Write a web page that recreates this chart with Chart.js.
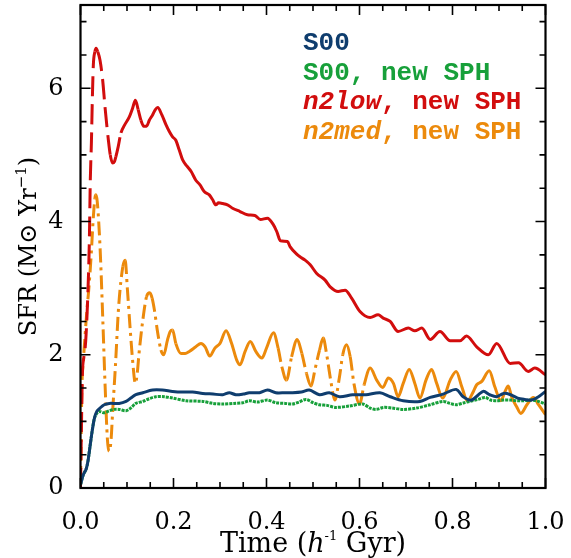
<!DOCTYPE html>
<html><head><meta charset="utf-8">
<script src="https://cdn.jsdelivr.net/npm/chart.js@4/dist/chart.umd.min.js"></script>
<style>html,body{margin:0;padding:0;background:#fff}</style>
</head><body>
<canvas id="c" width="571" height="558"></canvas>
<script>
// ---------------- data ----------------
const xTickValues = [0, 0.2, 0.4, 0.6, 0.8, 1.0];
const yTickValues = [0, 2, 4, 6];
const xMinorStep = 0.05;
const yMinorStep = 0.5;

const s00T = [0, 0.006, 0.012, 0.016, 0.02, 0.025, 0.03, 0.035, 0.042, 0.051, 0.062, 0.083, 0.098, 0.11, 0.119, 0.134, 0.155, 0.176, 0.198, 0.22, 0.241, 0.263, 0.285, 0.306, 0.32, 0.334, 0.35, 0.363, 0.385, 0.402, 0.42, 0.44, 0.456, 0.475, 0.492, 0.514, 0.535, 0.557, 0.585, 0.614, 0.644, 0.666, 0.694, 0.73, 0.752, 0.78, 0.808, 0.823, 0.841, 0.866, 0.88, 0.895, 0.91, 0.925, 0.94, 0.955, 0.97, 0.985, 1.0];
const s00V = [0.05, 0.2, 0.28, 0.4, 0.6, 0.85, 1.05, 1.15, 1.2, 1.25, 1.27, 1.27, 1.3, 1.36, 1.4, 1.43, 1.47, 1.47, 1.45, 1.44, 1.44, 1.42, 1.41, 1.4, 1.43, 1.4, 1.41, 1.43, 1.43, 1.47, 1.43, 1.43, 1.43, 1.44, 1.47, 1.4, 1.43, 1.37, 1.4, 1.4, 1.43, 1.37, 1.31, 1.3, 1.36, 1.41, 1.48, 1.37, 1.32, 1.45, 1.4, 1.37, 1.42, 1.4, 1.35, 1.33, 1.32, 1.37, 1.45];

const s00NewT = [0, 0.006, 0.012, 0.016, 0.02, 0.025, 0.03, 0.035, 0.04, 0.051, 0.062, 0.072, 0.083, 0.098, 0.108, 0.119, 0.134, 0.148, 0.162, 0.18, 0.198, 0.227, 0.263, 0.285, 0.306, 0.33, 0.349, 0.363, 0.38, 0.402, 0.42, 0.44, 0.456, 0.47, 0.485, 0.5, 0.514, 0.53, 0.549, 0.578, 0.607, 0.623, 0.636, 0.652, 0.67, 0.694, 0.723, 0.752, 0.78, 0.795, 0.808, 0.825, 0.837, 0.855, 0.87, 0.882, 0.895, 0.91, 0.924, 0.94, 0.952, 0.968, 0.981, 1.0];
const s00NewV = [0.05, 0.2, 0.28, 0.4, 0.6, 0.85, 1.05, 1.12, 1.15, 1.13, 1.16, 1.18, 1.18, 1.16, 1.2, 1.27, 1.3, 1.34, 1.37, 1.37, 1.35, 1.31, 1.3, 1.27, 1.26, 1.27, 1.28, 1.31, 1.29, 1.32, 1.28, 1.27, 1.26, 1.29, 1.33, 1.28, 1.25, 1.24, 1.21, 1.23, 1.26, 1.2, 1.18, 1.21, 1.2, 1.18, 1.2, 1.25, 1.3, 1.27, 1.25, 1.28, 1.3, 1.33, 1.36, 1.32, 1.31, 1.32, 1.32, 1.31, 1.31, 1.32, 1.31, 1.26];

const n2lowT = [0, 0.002, 0.004, 0.007, 0.010, 0.012, 0.0155, 0.019, 0.021, 0.0235, 0.0255, 0.0276, 0.031, 0.0335, 0.037, 0.042, 0.0477, 0.0527, 0.06, 0.064, 0.069, 0.073, 0.076, 0.081, 0.087, 0.095, 0.105, 0.112, 0.118, 0.124, 0.130, 0.136, 0.142, 0.148, 0.155, 0.161, 0.166, 0.175, 0.184, 0.191, 0.198, 0.205, 0.212, 0.22, 0.229, 0.238, 0.248, 0.257, 0.266, 0.277, 0.284, 0.291, 0.297, 0.306, 0.316, 0.327, 0.343, 0.359, 0.375, 0.387, 0.402, 0.414, 0.422, 0.43, 0.445, 0.451, 0.465, 0.472, 0.483, 0.494, 0.508, 0.526, 0.537, 0.554, 0.569, 0.583, 0.601, 0.623, 0.64, 0.651, 0.666, 0.683, 0.705, 0.719, 0.734, 0.752, 0.773, 0.795, 0.816, 0.83, 0.852, 0.877, 0.895, 0.924, 0.942, 0.963, 0.977, 1.0];
const n2lowV = [0, 0.9, 1.7, 1.95, 2.1, 2.3, 2.85, 3.7, 4.6, 5.2, 5.85, 6.35, 6.55, 6.6, 6.55, 6.42, 6.12, 5.72, 5.22, 5.0, 4.88, 4.9, 4.97, 5.12, 5.33, 5.45, 5.57, 5.7, 5.82, 5.68, 5.52, 5.43, 5.43, 5.52, 5.6, 5.68, 5.71, 5.6, 5.45, 5.35, 5.27, 5.22, 5.08, 4.92, 4.83, 4.75, 4.62, 4.55, 4.45, 4.4, 4.33, 4.25, 4.28, 4.27, 4.25, 4.2, 4.15, 4.1, 4.09, 4.03, 4.05, 3.96, 3.85, 3.71, 3.7, 3.62, 3.51, 3.47, 3.42, 3.35, 3.22, 3.12, 3.02, 2.95, 2.97, 2.85, 2.65, 2.56, 2.6, 2.55, 2.5, 2.35, 2.4, 2.36, 2.4, 2.23, 2.35, 2.21, 2.21, 2.28, 2.12, 2.0, 2.17, 1.87, 1.88, 1.75, 1.8, 1.7];

const n2medT = [0, 0.003, 0.006, 0.009, 0.013, 0.018, 0.023, 0.027, 0.031, 0.033, 0.036, 0.042, 0.048, 0.053, 0.058, 0.062, 0.066, 0.069, 0.075, 0.082, 0.091, 0.096, 0.101, 0.107, 0.112, 0.118, 0.122, 0.126, 0.134, 0.142, 0.149, 0.154, 0.159, 0.166, 0.173, 0.179, 0.187, 0.193, 0.198, 0.205, 0.216, 0.225, 0.234, 0.248, 0.259, 0.268, 0.278, 0.289, 0.3, 0.313, 0.325, 0.336, 0.343, 0.354, 0.365, 0.377, 0.39, 0.4, 0.415, 0.425, 0.433, 0.443, 0.454, 0.466, 0.476, 0.486, 0.496, 0.504, 0.514, 0.522, 0.529, 0.538, 0.547, 0.557, 0.564, 0.572, 0.58, 0.588, 0.6, 0.61, 0.623, 0.637, 0.65, 0.662, 0.673, 0.683, 0.694, 0.707, 0.719, 0.73, 0.743, 0.755, 0.766, 0.779, 0.795, 0.808, 0.82, 0.832, 0.845, 0.852, 0.863, 0.879, 0.891, 0.904, 0.913, 0.92, 0.927, 0.938, 0.947, 0.96, 0.974, 0.985, 1.0];
const n2medV = [0, 1.5, 1.9, 2.2, 2.6, 3.0, 3.5, 4.0, 4.35, 4.4, 4.3, 3.62, 2.52, 1.52, 0.72, 0.55, 0.75, 1.13, 1.82, 2.72, 3.32, 3.42, 2.97, 2.37, 1.92, 1.57, 1.72, 2.03, 2.52, 2.87, 2.93, 2.85, 2.67, 2.33, 2.07, 2.0, 2.22, 2.35, 2.37, 2.17, 2.02, 2.02, 2.05, 2.12, 2.17, 2.12, 1.98, 2.1, 2.17, 2.36, 2.17, 1.92, 1.85, 2.05, 2.2, 2.05, 1.95, 2.1, 2.33, 2.1, 1.82, 1.62, 1.97, 2.23, 2.02, 1.72, 1.53, 1.77, 2.07, 2.25, 2.02, 1.62, 1.32, 1.67, 2.0, 2.15, 1.97, 1.57, 1.26, 1.55, 1.8, 1.62, 1.51, 1.65, 1.57, 1.37, 1.57, 1.78, 1.57, 1.35, 1.62, 1.78, 1.57, 1.35, 1.62, 1.75, 1.52, 1.31, 1.45, 1.55, 1.6, 1.76, 1.52, 1.31, 1.45, 1.53, 1.37, 1.22, 1.12, 1.25, 1.36, 1.25, 1.1];

const legendParts = [
  [['S00', false]],
  [['S00, new SPH', false]],
  [['n2low', true], [', new SPH', false]],
  [['n2med', true], [', new SPH', false]]
];
const seriesColors = ['#0f3d6e', '#17a03a', '#d20d0d', '#ec8a0c'];

// ---------------- helpers ----------------
const toXY = (ts, vs) => ts.map((t, i) => ({x: t, y: vs[i]}));
function steepDash(threshold, pattern) {
  return c => {
    const dx = Math.abs(c.p1.x - c.p0.x), dy = Math.abs(c.p1.y - c.p0.y);
    return dy > threshold * Math.max(dx, 0.01) ? pattern : [];
  };
}
function drawRich(ctx, parts, x, y) {
  let total = 0;
  parts.forEach(p => { ctx.font = p.font; total += ctx.measureText(p.text).width; });
  let cx = x - total / 2;
  parts.forEach(p => {
    ctx.font = p.font;
    ctx.fillText(p.text, cx, y + (p.dy || 0));
    cx += ctx.measureText(p.text).width;
  });
}

const decorPlugin = {
  id: 'decor',
  afterDraw(chart) {
    const {ctx, chartArea: a, scales: {x, y}} = chart;
    ctx.save();
    ctx.strokeStyle = '#000';
    ctx.lineWidth = 1.6;
    ctx.beginPath();
    const nx = Math.round((x.max - x.min) / xMinorStep);
    for (let i = 0; i <= nx; i++) {
      const v = x.min + i * xMinorStep;
      const major = xTickValues.some(t => Math.abs(t - v) < 1e-6);
      const L = major ? 10 : 6;
      const px = x.getPixelForValue(v);
      ctx.moveTo(px, a.bottom); ctx.lineTo(px, a.bottom - L);
      ctx.moveTo(px, a.top); ctx.lineTo(px, a.top + L);
    }
    const ny = Math.floor((y.max - y.min) / yMinorStep + 1e-6);
    for (let i = 0; i <= ny; i++) {
      const v = y.min + i * yMinorStep;
      const major = yTickValues.some(t => Math.abs(t - v) < 1e-6);
      const L = major ? 10 : 6;
      const py = y.getPixelForValue(v);
      ctx.moveTo(a.left, py); ctx.lineTo(a.left + L, py);
      ctx.moveTo(a.right, py); ctx.lineTo(a.right - L, py);
    }
    ctx.stroke();
    ctx.lineWidth = 2.2;
    ctx.strokeRect(a.left, a.top, a.right - a.left, a.bottom - a.top);

    // axis titles
    ctx.fillStyle = '#000';
    ctx.textBaseline = 'alphabetic';
    const f = 'px "DejaVu Serif"';
    drawRich(ctx, [
      {text: 'Time (', font: '27' + f},
      {text: 'h', font: 'italic 27' + f},
      {text: '-1', font: '13' + f, dy: -12},
      {text: ' Gyr)', font: '27' + f}
    ], (a.left + a.right) / 2, 552);
    ctx.save();
    ctx.translate(36, (a.top + a.bottom) / 2);
    ctx.rotate(-Math.PI / 2);
    drawRich(ctx, [
      {text: 'SFR (M\u2299 Yr', font: '24' + f},
      {text: '\u22121', font: '15' + f, dy: -10},
      {text: ')', font: '24' + f}
    ], 0, 0);
    ctx.restore();

    // legend
    let ly = 50;
    legendParts.forEach((parts, i) => {
      ctx.fillStyle = seriesColors[i];
      let lx = 303;
      parts.forEach(([txt, it]) => {
        ctx.font = (it ? 'italic ' : '') + 'bold 26px "Liberation Mono"';
        ctx.fillText(txt, lx, ly);
        lx += ctx.measureText(txt).width;
      });
      ly += 29.5;
    });
    ctx.restore();
  }
};

new Chart(document.getElementById('c'), {
  type: 'line',
  data: {
    datasets: [
      {label: 'S00', data: toXY(s00T, s00V), borderColor: seriesColors[0], borderWidth: 3, tension: 0.3},
      {label: 'S00, new SPH', data: toXY(s00NewT, s00NewV), borderColor: seriesColors[1], borderWidth: 3, borderDash: [3, 1], tension: 0.3},
      {label: 'n2low, new SPH', data: toXY(n2lowT, n2lowV), borderColor: seriesColors[2], borderWidth: 3, cubicInterpolationMode: 'monotone',
        segment: {borderDash: steepDash(3.5, [20, 8])}},
      {label: 'n2med, new SPH', data: toXY(n2medT, n2medV), borderColor: seriesColors[3], borderWidth: 3, cubicInterpolationMode: 'monotone',
        segment: {borderDash: steepDash(4, [14, 5, 3, 5])}}
    ]
  },
  options: {
    responsive: false,
    animation: false,
    devicePixelRatio: 1,
    layout: {padding: {left: 0, right: 25.5, top: 5, bottom: 0}},
    elements: {point: {radius: 0}, line: {borderCapStyle: 'butt', borderJoinStyle: 'round'}},
    plugins: {legend: {display: false}, tooltip: {enabled: false}},
    scales: {
      x: {
        type: 'linear', min: 0, max: 1,
        afterFit: s => { s.height = 70; s.paddingLeft = 0; s.paddingRight = 0; },
        afterBuildTicks: s => { s.ticks = xTickValues.map(v => ({value: v})); },
        grid: {display: false}, border: {display: false},
        ticks: {padding: 12, color: '#000', font: {family: 'DejaVu Serif', size: 24}, maxRotation: 0,
          callback: v => Number(v).toFixed(1)}
      },
      y: {
        type: 'linear', min: 0, max: 7.25,
        afterFit: s => { s.width = 80.5; s.paddingTop = 0; s.paddingBottom = 0; },
        afterBuildTicks: s => { s.ticks = yTickValues.map(v => ({value: v})); },
        grid: {display: false}, border: {display: false},
        ticks: {padding: 9, color: '#000', font: {family: 'DejaVu Serif', size: 24},
          callback: v => String(v)}
      }
    }
  },
  plugins: [decorPlugin]
});
</script>
</body></html>
